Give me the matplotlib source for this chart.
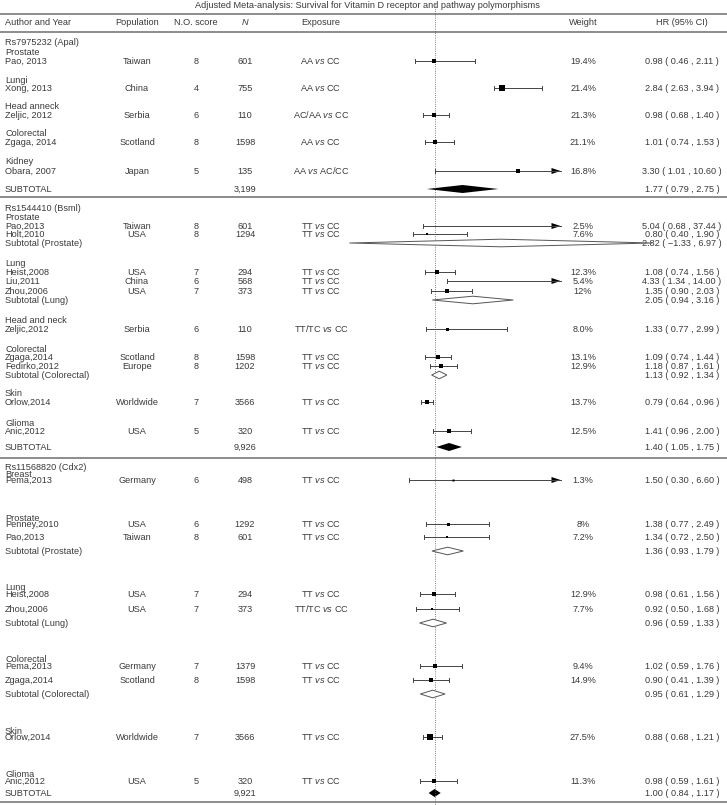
import matplotlib
matplotlib.use('Agg')
import matplotlib.pyplot as plt

plt.rcParams['font.family'] = ['Liberation Sans', 'DejaVu Sans']
plt.rcParams['mathtext.fontset'] = 'custom'
plt.rcParams['mathtext.rm'] = 'Liberation Sans'
plt.rcParams['mathtext.it'] = 'Liberation Sans:italic'

title = 'Adjusted Meta-analysis: Survival for Vitamin D receptor and pathway polymorphisms'
headers = ['Author and Year', 'Population', 'N.O. score', 'N', 'Exposure', 'Weight', 'HR (95% CI)']

# one entry per row; kind: head = label only, study, sub = open diamond, total = filled diamond
kinds = ['head', 'head', 'study', 'head', 'study', 'head', 'study', 'head', 'study', 'head', 'study', 'total',
         'head', 'head', 'study', 'study', 'sub', 'head', 'study', 'study', 'study', 'sub', 'head', 'study',
         'head', 'study', 'study', 'sub', 'head', 'study', 'head', 'study', 'total',
         'head', 'head', 'study', 'head', 'study', 'study', 'sub', 'head', 'study', 'study', 'sub',
         'head', 'study', 'study', 'sub', 'head', 'study', 'head', 'study', 'total']
labels = ['Rs7975232 (Apal)', 'Prostate', 'Pao, 2013', 'Lungi', 'Xong, 2013', 'Head anneck', 'Zeljic, 2012',
          'Colorectal', 'Zgaga, 2014', 'Kidney', 'Obara, 2007', 'SUBTOTAL',
          'Rs1544410 (Bsml)', 'Prostate', 'Pao,2013', 'Holt,2010', 'Subtotal (Prostate)', 'Lung', 'Heist,2008',
          'Liu,2011', 'Zhou,2006', 'Subtotal (Lung)', 'Head and neck', 'Zeljic,2012', 'Colorectal',
          'Zgaga,2014', 'Fedirko,2012', 'Subtotal (Colorectal)', 'Skin', 'Orlow,2014', 'Glioma', 'Anic,2012',
          'SUBTOTAL',
          'Rs11568820 (Cdx2)', 'Breast', 'Pema,2013', 'Prostate', 'Penney,2010', 'Pao,2013',
          'Subtotal (Prostate)', 'Lung', 'Heist,2008', 'Zhou,2006', 'Subtotal (Lung)', 'Colorectal',
          'Pema,2013', 'Zgaga,2014', 'Subtotal (Colorectal)', 'Skin', 'Orlow,2014', 'Glioma', 'Anic,2012',
          'SUBTOTAL']
populations = ['', '', 'Taiwan', '', 'China', '', 'Serbia', '', 'Scotland', '', 'Japan', '',
               '', '', 'Taiwan', 'USA', '', '', 'USA', 'China', 'USA', '', '', 'Serbia', '', 'Scotland',
               'Europe', '', '', 'Worldwide', '', 'USA', '',
               '', '', 'Germany', '', 'USA', 'Taiwan', '', '', 'USA', 'USA', '', '', 'Germany', 'Scotland',
               '', '', 'Worldwide', '', 'USA', '']
scores = ['', '', '8', '', '4', '', '6', '', '8', '', '5', '',
          '', '', '8', '8', '', '', '7', '6', '7', '', '', '6', '', '8', '8', '', '', '7', '', '5', '',
          '', '', '6', '', '6', '8', '', '', '7', '7', '', '', '7', '8', '', '', '7', '', '5', '']
sizes = ['', '', '601', '', '755', '', '110', '', '1598', '', '135', '3,199',
         '', '', '601', '1294', '', '', '294', '568', '373', '', '', '110', '', '1598', '1202', '', '',
         '3566', '', '320', '9,926',
         '', '', '498', '', '1292', '601', '', '', '294', '373', '', '', '1379', '1598', '', '', '3566', '',
         '320', '9,921']
exposures = ['', '', 'AA vs CC', '', 'AA vs CC', '', 'AC/AA vs CC', '', 'AA vs CC', '', 'AA vs AC/CC', '',
             '', '', 'TT vs CC', 'TT vs CC', '', '', 'TT vs CC', 'TT vs CC', 'TT vs CC', '', '',
             'TT/TC vs CC', '', 'TT vs CC', 'TT vs CC', '', '', 'TT vs CC', '', 'TT vs CC', '',
             '', '', 'TT vs CC', '', 'TT vs CC', 'TT vs CC', '', '', 'TT vs CC', 'TT/TC vs CC', '', '',
             'TT vs CC', 'TT vs CC', '', '', 'TT vs CC', '', 'TT vs CC', '']
weights = ['', '', '19.4%', '', '21.4%', '', '21.3%', '', '21.1%', '', '16.8%', '',
           '', '', '2.5%', '7.6%', '', '', '12.3%', '5.4%', '12%', '', '', '8.0%', '', '13.1%', '12.9%',
           '', '', '13.7%', '', '12.5%', '',
           '', '', '1.3%', '', '8%', '7.2%', '', '', '12.9%', '7.7%', '', '', '9.4%', '14.9%', '', '',
           '27.5%', '', '11.3%', '']
hrs = [None, None, 0.98, None, 2.84, None, 0.98, None, 1.01, None, 3.30, 1.77,
       None, None, 5.04, 0.80, 2.82, None, 1.08, 4.33, 1.35, 2.05, None, 1.33, None, 1.09, 1.18, 1.13,
       None, 0.79, None, 1.41, 1.40,
       None, None, 1.50, None, 1.38, 1.34, 1.36, None, 0.98, 0.92, 0.96, None, 1.02, 0.90, 0.95,
       None, 0.88, None, 0.98, 1.00]
lows = [None, None, 0.46, None, 2.63, None, 0.68, None, 0.74, None, 1.01, 0.79,
        None, None, 0.68, 0.40, -1.33, None, 0.74, 1.34, 0.90, 0.94, None, 0.77, None, 0.74, 0.87, 0.92,
        None, 0.64, None, 0.96, 1.05,
        None, None, 0.30, None, 0.77, 0.72, 0.93, None, 0.61, 0.50, 0.59, None, 0.59, 0.41, 0.61,
        None, 0.68, None, 0.59, 0.84]
highs = [None, None, 2.11, None, 3.94, None, 1.40, None, 1.53, None, 10.60, 2.75,
         None, None, 37.44, 1.90, 6.97, None, 1.56, 14.00, 2.03, 3.16, None, 2.99, None, 1.44, 1.61, 1.34,
         None, 0.96, None, 2.00, 1.75,
         None, None, 6.60, None, 2.49, 2.50, 1.79, None, 1.56, 1.68, 1.33, None, 1.76, 1.39, 1.29,
         None, 1.21, None, 1.61, 1.17]

# layout (pixel rows, top = 0)
W, H = 727, 805
row_y = [42, 52, 61, 80, 88, 106, 115, 133, 142, 161, 171, 189,
         208, 217, 226, 234, 243, 263, 272, 281, 291, 300, 320, 329, 349, 357, 366, 375, 393, 402, 423, 431, 447,
         467, 474, 480, 518, 524, 537, 551, 587, 594, 609, 623, 659, 666, 680, 694, 731, 737, 774, 781, 793]
rule_y = [14, 32, 197, 458, 802]
col_x = [5, 137, 196, 245, 321, 583, 682]
null_px, px_per_unit = 434.5, 36.5
clip_hr = 1 + (560.5 - null_px) / px_per_unit
fs = 6.6
base = 3.2  # baseline offset below row centre, px
ink = '#3a3a3a'


def to_hr(px):
    return 1 + (px - null_px) / px_per_unit


fig = plt.figure(figsize=(W / 100, H / 100), dpi=100)
tx = fig.add_axes([0, 0, 1, 1])
tx.set_xlim(0, W)
tx.set_ylim(H, 0)
tx.axis('off')
fx = fig.add_axes([0, 0, 1, 1])
fx.set_xlim(to_hr(0), to_hr(W))
fx.set_ylim(H, 0)
fx.axis('off')
fx.patch.set_alpha(0)

tx.text(W / 2 + 4, 5 + base, title, ha='center', va='baseline', fontsize=fs, color=ink)
for y in rule_y:
    tx.plot([0, W], [y, y], color='#8c8c8c', lw=1.4, solid_capstyle='butt')
for i, h in enumerate(headers):
    tx.text(col_x[i], 22 + base, h, ha='left' if i == 0 else 'center', va='baseline', fontsize=fs, color=ink,
            fontstyle='italic' if h == 'N' else 'normal')

fx.plot([1, 1], [4, H], color='#555555', lw=0.6, ls=':')

for i, kind in enumerate(kinds):
    y = row_y[i]
    tx.text(col_x[0], y + base, labels[i], ha='left', va='baseline', fontsize=fs, color=ink)
    expo = exposures[i].replace(' vs ', r' $\it{vs}$ ')
    for c, s in zip(col_x[1:6], [populations[i], scores[i], sizes[i], expo, weights[i]]):
        if s:
            tx.text(c, y + base, s, ha='center', va='baseline', fontsize=fs, color=ink)
    if kind == 'head':
        continue
    hr, lo, hi = hrs[i], lows[i], highs[i]
    txt = f'{hr:.2f} ( {lo:.2f} , {hi:.2f} )'.replace('-', '\u2212')
    tx.text(col_x[6], y + base, txt, ha='center', va='baseline', fontsize=fs, color=ink)

    if kind == 'study':
        right = min(hi, clip_hr)
        fx.plot([lo, right], [y, y], color='#444444', lw=0.7)
        fx.plot([lo, lo], [y - 2, y + 2], color='#444444', lw=0.7)
        if hi > clip_hr:
            alen = 9 / px_per_unit
            fx.fill([clip_hr - alen, clip_hr, clip_hr - alen], [y - 3, y, y + 3], color='black', lw=0)
        else:
            fx.plot([hi, hi], [y - 2, y + 2], color='#444444', lw=0.7)
        if hr < clip_hr - 9 / px_per_unit:
            w = float(weights[i].rstrip('%'))
            side = 1.8 + 0.15 * w
            fx.plot(hr, y, marker='s', ms=side * 0.72, color='black', mew=0)
    else:
        half = 4 if kind == 'total' else 3.8
        xs = [lo, hr, hi, hr]
        ys = [y, y - half, y, y + half]
        if kind == 'total':
            fx.fill(xs, ys, color='black', lw=0)
        else:
            fx.fill(xs, ys, facecolor='white', edgecolor='#555555', lw=0.7, zorder=3)

fig.savefig('out.png', dpi=100)
